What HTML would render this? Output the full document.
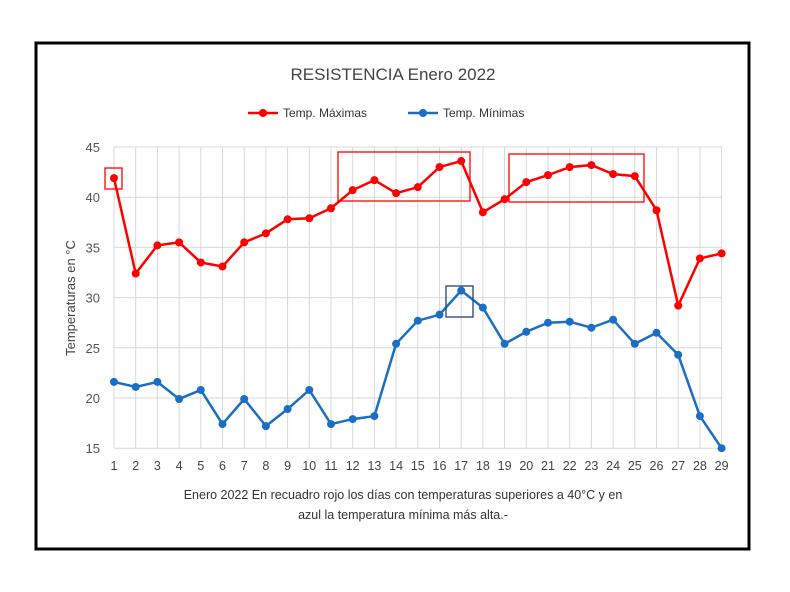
<!DOCTYPE html>
<html><head><meta charset="utf-8"><style>
body{margin:0;background:#fff;width:790px;height:587px;overflow:hidden;font-family:"Liberation Sans",sans-serif}
</style></head><body>
<svg id="s" width="790" height="587" xmlns="http://www.w3.org/2000/svg" font-family="Liberation Sans, sans-serif">
<rect x="36" y="43" width="713" height="506" fill="#fff" stroke="#000" stroke-width="3"/>
<text x="393" y="80" font-size="17" fill="#444" text-anchor="middle">RESISTENCIA Enero 2022</text>
<line x1="248" y1="113" x2="278" y2="113" stroke="#f00" stroke-width="2.5"/><circle cx="263" cy="113" r="4" fill="#f00"/>
<text x="283" y="117" font-size="12" fill="#333">Temp. Máximas</text>
<line x1="408" y1="113" x2="438" y2="113" stroke="#1a6fc4" stroke-width="2.5"/><circle cx="423" cy="113" r="4" fill="#1a6fc4"/>
<text x="443" y="117" font-size="12" fill="#333">Temp. Mínimas</text>
<text transform="translate(75,298) rotate(-90)" font-size="13" fill="#444" text-anchor="middle">Temperaturas en °C</text>
<text x="403" y="499" font-size="12.5" fill="#333" text-anchor="middle">Enero 2022  En recuadro rojo los días con temperaturas superiores a 40°C y en</text>
<text x="403" y="519" font-size="12.5" fill="#333" text-anchor="middle">azul la temperatura mínima más alta.-</text>
<g id="g"></g>
</svg>
<script>
var g=document.getElementById('g'),h='';
function X(d){return 114+21.7*(d-1)}function Y(v){return 147+(45-v)*10.04}
for(var v=15;v<=45;v+=5){h+='<line x1="114" x2="722" y1="'+Y(v)+'" y2="'+Y(v)+'" stroke="#d9d9d9"/>';h+='<text x="100" y="'+(Y(v)+5)+'" font-size="13" fill="#555" text-anchor="end">'+v+'</text>';}
for(var d=1;d<=29;d++){h+='<line y1="147" y2="448" x1="'+X(d)+'" x2="'+X(d)+'" stroke="#d9d9d9"/>';h+='<text x="'+X(d)+'" y="470" font-size="12.5" fill="#444" text-anchor="middle">'+d+'</text>';}
var mx=[41.9,32.4,35.2,35.5,33.5,33.1,35.5,36.4,37.8,37.9,38.9,40.7,41.7,40.4,41,43,43.6,38.5,39.8,41.5,42.2,43,43.2,42.3,42.1,38.7,29.2,33.9,34.4];
var mn=[21.6,21.1,21.6,19.9,20.8,17.4,19.9,17.2,18.9,20.8,17.4,17.9,18.2,25.4,27.7,28.3,30.7,29,25.4,26.6,27.5,27.6,27,27.8,25.4,26.5,24.3,18.2,15];
function ser(a,c){var p=a.map(function(v,i){return X(i+1)+','+Y(v)}).join(' ');h+='<polyline points="'+p+'" fill="none" stroke="'+c+'" stroke-width="2.5"/>';a.forEach(function(v,i){h+='<circle cx="'+X(i+1)+'" cy="'+Y(v)+'" r="4" fill="'+c+'"/>'});}
ser(mx,'#f00');ser(mn,'#1a6fc4');
h+='<rect x="105" y="168" width="17" height="21" fill="none" stroke="#f00" stroke-width="1.3"/>';
h+='<rect x="338" y="152" width="132" height="49" fill="none" stroke="#f00" stroke-width="1.3"/>';
h+='<rect x="509" y="154" width="135" height="48" fill="none" stroke="#f00" stroke-width="1.3"/>';
h+='<rect x="446" y="286" width="27" height="31" fill="none" stroke="#1f3f7f" stroke-width="1.3"/>';
g.innerHTML=h;
</script>
</body></html>
